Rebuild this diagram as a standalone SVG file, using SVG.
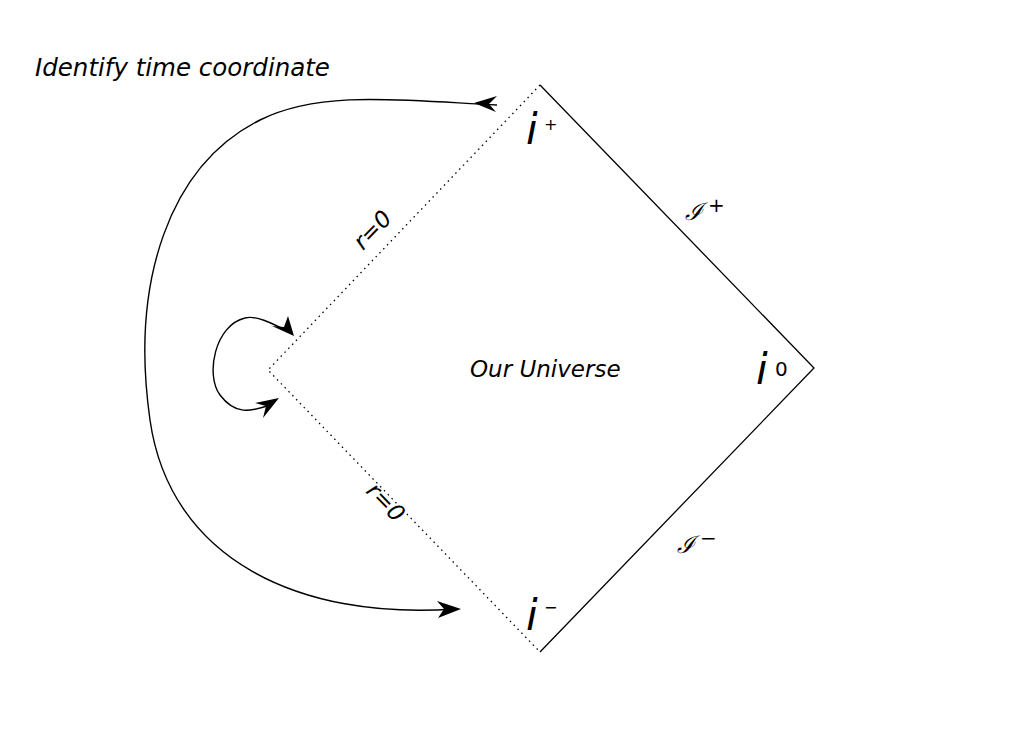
<svg xmlns="http://www.w3.org/2000/svg" width="1031" height="748" viewBox="0 0 1031 748">
<style>
.t{font-family:"DejaVu Sans",sans-serif;font-style:italic;fill:#000}
.p{font-family:"DejaVu Sans",sans-serif;fill:#000}
.c{fill:none;stroke:#000;stroke-width:1.4}
.d{fill:none;stroke:#000;stroke-width:1.3;stroke-dasharray:1.5 4}
.s{fill:none;stroke:#000;stroke-width:1.3}
</style>
<rect width="1031" height="748" fill="#fff"/>
<text class="t" x="35" y="76" font-size="24.5">Identify time coordinate</text>
<g id="boundary">
<path class="s" d="M540,85 L814,368 L540,652"/>
<path class="d" d="M540,85 L268,370 L540,652"/>
</g>
<g id="labels">
<text class="t" x="526" y="144" font-size="42">i</text><text class="p" x="544" y="130" font-size="16">+</text>
<text class="t" x="756" y="384" font-size="42">i</text><text class="p" x="775" y="376" font-size="20">0</text>
<text class="t" x="526" y="630" font-size="42">i</text><text class="p" x="544" y="613" font-size="16">−</text>
<text x="685" y="220" font-family="DejaVu Serif,serif" font-style="italic" font-size="24">ℐ</text><text class="p" x="708" y="212" font-size="20">+</text>
<text x="677" y="553" font-family="DejaVu Serif,serif" font-style="italic" font-size="24">ℐ</text><text class="p" x="700" y="545" font-size="20">−</text>
<text class="t" x="470" y="377" font-size="23">Our Universe</text>
<text class="t" font-size="23" transform="translate(363,251) rotate(-46)">r=0</text>
<text class="t" font-size="23" transform="translate(365,492) rotate(46)">r=0</text>
</g>
<g id="connectors">
<path class="c" d="M497,105 C400,100 320,90 260,120 C170,165 130,280 150,420 C170,560 300,620 455,609"/>
<path d="M474,103 L497,96 L489,104 L496,112 Z"/>
<path d="M461,609 L438,618 L444,609 L437,601 Z"/>
<path class="c" d="M291,333 C270,322 255,315 245,318 C215,325 205,375 220,395 C235,415 250,412 270,405"/>
<path d="M294,336 L272,326 L284,327 L288,316 Z"/>
<path d="M279,398 L263,418 L266,406 L255,403 Z"/>
</g>
</svg>
